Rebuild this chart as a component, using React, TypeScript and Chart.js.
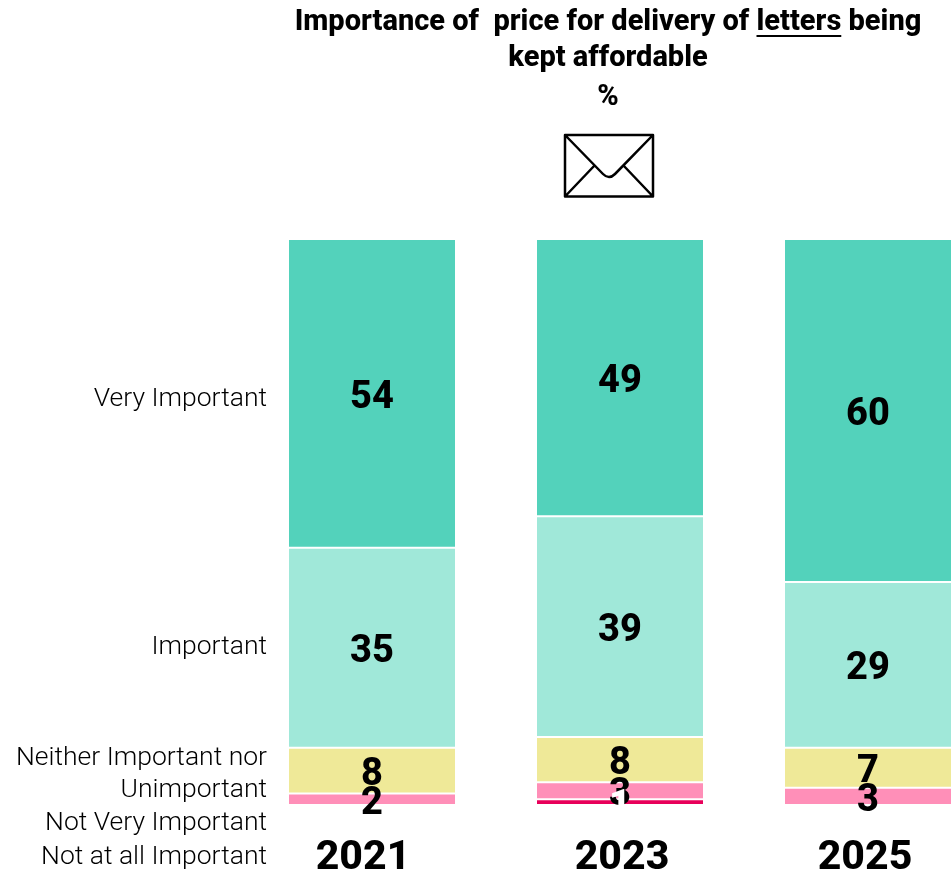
import React, { useEffect, useRef } from "react";
import { Chart, registerables } from "chart.js";

Chart.register(...registerables);

const years = ["2021", "2023", "2025"];
const seriesNames = ["Very Important", "Important", "Neither Important nor Unimportant", "Not Very Important", "Not at all Important"];
const veryImportant = [54, 49, 60];
const important = [35, 39, 29];
const neither = [8, 8, 7];
const notVery = [2, 3, 3];
const notAtAll = [0, 1, 0];
const colors = ["#53D2BB", "#A0E8D9", "#EFE998", "#FF8FB8", "#E8005A"];
const labelColors = ["#000000", "#000000", "#000000", "#000000", "#FFFFFF"];
const titleLines = ["Importance of  price for delivery of letters being", "kept affordable", "%"];
const allSeries = [veryImportant, important, neither, notVery, notAtAll];

const totals = years.map((_, j) => allSeries.reduce((s, a) => s + a[j], 0));

const FONT = "Roboto, sans-serif";

const textPlugin = {
  id: "textPlugin",
  afterDatasetsDraw(chart: any) {
    const ctx = chart.ctx;
    ctx.save();
    // value labels
    ctx.textAlign = "center";
    ctx.textBaseline = "middle";
    ctx.font = `800 38px ${FONT}`;
    chart.data.datasets.forEach((ds: any, i: number) => {
      const meta = chart.getDatasetMeta(i);
      meta.data.forEach((bar: any, j: number) => {
        const raw = allSeries[i][j];
        if (!raw) return;
        ctx.fillStyle = labelColors[i];
        ctx.fillText(String(raw), bar.x, (bar.y + bar.base) / 2 + 5);
      });
    });
    // year labels
    ctx.fillStyle = "#000";
    ctx.font = `800 41px ${FONT}`;
    const yearShift = [-9, 2, -3];
    years.forEach((y, j) => ctx.fillText(y, chart.scales.x.getPixelForValue(j) + yearShift[j], 859));
    // left labels
    ctx.textAlign = "right";
    ctx.font = `300 26.5px ${FONT}`;
    const rows: [string, number][] = [
      [seriesNames[0], 399],
      [seriesNames[1], 647],
      ["Neither Important nor", 758],
      ["Unimportant", 790],
      [seriesNames[3], 823],
      [seriesNames[4], 857],
    ];
    rows.forEach(([t, y]) => ctx.fillText(t, 267, y));
    // title
    ctx.textAlign = "center";
    ctx.font = `800 29px ${FONT}`;
    const cx = 608;
    ctx.fillText(titleLines[0], cx, 23);
    ctx.fillText(titleLines[1], cx, 59);
    ctx.fillText(titleLines[2], cx, 98);
    const w = ctx.measureText(titleLines[0]).width;
    const pre = ctx.measureText("Importance of  price for delivery of ").width;
    const word = ctx.measureText("letters").width;
    ctx.fillRect(cx - w / 2 + pre, 35, word, 2);
    // envelope
    ctx.strokeStyle = "#000";
    ctx.lineWidth = 2.5;
    ctx.lineJoin = "round";
    ctx.beginPath();
    ctx.rect(565, 135, 88, 61.5);
    ctx.moveTo(565, 135);
    ctx.lineTo(603, 174);
    ctx.quadraticCurveTo(609, 180, 615, 174);
    ctx.lineTo(653, 135);
    ctx.moveTo(565, 196.5);
    ctx.lineTo(595, 165);
    ctx.moveTo(653, 196.5);
    ctx.lineTo(623, 165);
    ctx.stroke();
    ctx.restore();
  },
};

export default function App() {
  const ref = useRef<HTMLCanvasElement>(null);
  useEffect(() => {
    const chart = new Chart(ref.current!, {
      type: "bar",
      data: {
        labels: years,
        datasets: allSeries.map((vals, i) => ({
          label: seriesNames[i],
          data: vals.map((v, j) => (v / totals[j]) * 100),
          backgroundColor: colors[i],
          borderColor: "#FFFFFF",
          borderWidth: 1,
          borderSkipped: false,
          categoryPercentage: 1,
          barPercentage: 168 / 248,
        })),
      },
      options: {
        responsive: false,
        animation: false,
        layout: { padding: { top: 239, left: 248, right: 0, bottom: 0 } },
        plugins: { legend: { display: false }, title: { display: false }, tooltip: { enabled: false } },
        scales: {
          x: {
            stacked: true,
            grid: { display: false },
            border: { display: false },
            afterFit: (s: any) => { s.height = 71; },
            ticks: { display: false },
          },
          y: { stacked: true, reverse: true, display: false, min: 0, max: 100 },
        },
      },
      plugins: [textPlugin],
    } as any);
    return () => chart.destroy();
  }, []);
  return (
    <div style={{ position: "absolute", left: 0, top: 0, width: 952, height: 876, overflow: "hidden", background: "#fff" }}>
      <canvas ref={ref} width={992} height={876} style={{ display: "block", width: 992, height: 876 }} />
    </div>
  );
}
